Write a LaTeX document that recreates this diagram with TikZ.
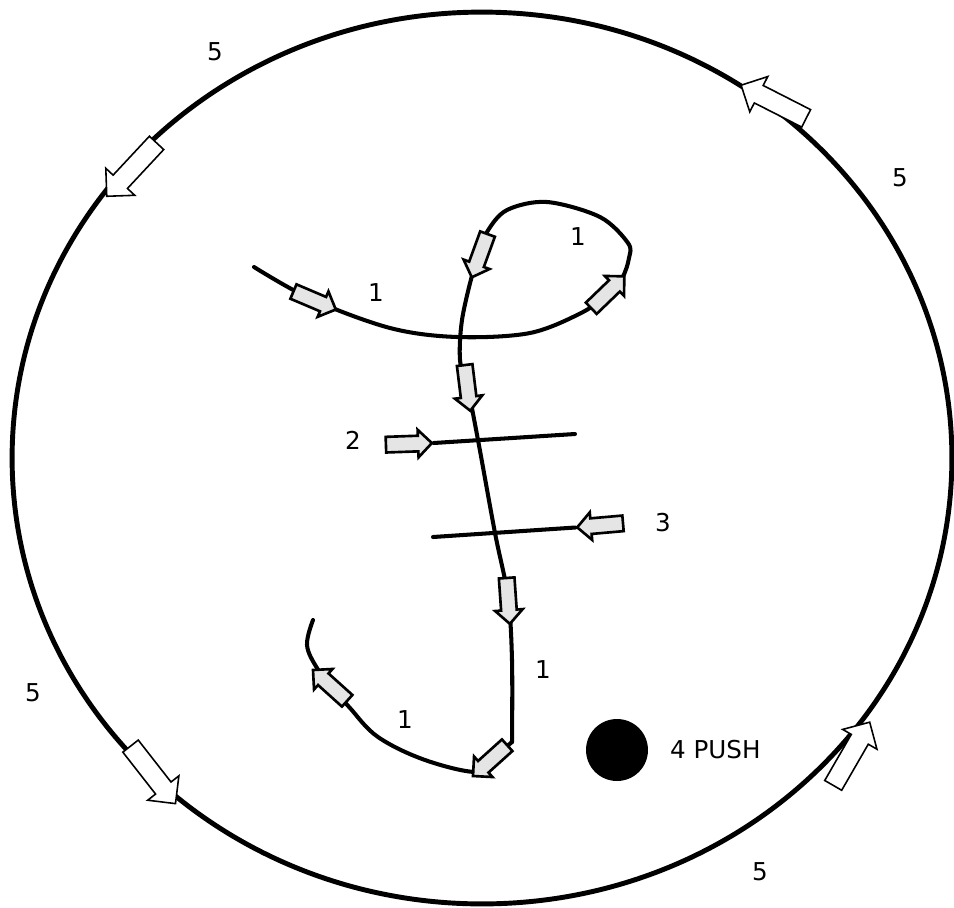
\documentclass[tikz,border=0pt]{standalone}
\usepackage{fontspec}
\setsansfont{DejaVu Sans}
\usetikzlibrary{shapes.arrows}

\begin{document}
\begin{tikzpicture}[
    x=0.02cm, y=-0.02cm,
    every node/.style={font=\sffamily\fontsize{14}{16}\selectfont},
    rimarr/.style={single arrow, draw, line width=0.9pt, fill=white, inner xsep=0pt, inner ysep=0.18cm, minimum height=1.46cm, single arrow head extend=0.2cm},
    dart/.style={single arrow, draw, line width=1.5pt, fill=gray!20, inner xsep=0pt, inner ysep=0.13cm, minimum height=0.92cm, single arrow head extend=0.12cm},
    stroke/.style={line width=2.3pt, line join=round, line cap=round},
]
\useasboundingbox (0,0) rectangle (954,907);

% ── Rim ──────────────────────────────────────────────────────────────────────
\draw[line width=2.8pt] (482,458) ellipse [x radius=9.4cm, y radius=8.92cm];
\node[rimarr, rotate=227] (rimnw) at (135,166) {};
\node[rimarr, rotate=153] (rimne) at (778,104) {};
\node[rimarr, rotate=-52] (rimsw) at (150,771) {};
\node[rimarr, rotate=60]  (rimse) at (849,758) {};
\node (fivenw) at (215,52)  {5};
\node (fivene) at (900,178) {5};
\node (fivesw) at (33,693)  {5};
\node (fivese) at (760,872) {5};

% ── Main stroke ──────────────────────────────────────────────────────────────
\draw[stroke] plot[smooth, tension=0.55] coordinates {
    (254,267) (311,299) (390,328) (457,337) (530,333) (583,312) (605,295)
    (622,278) (629,258) (628,243) (600,217) (547,202) (507,210) (487,232)
    (481,252) (473,272) (462,320) (460,360) (467,384) (478,440) (495,533)
    (508,597) (512,660) (512,742)};
\draw[stroke] plot[smooth, tension=0.6] coordinates {
    (512,742) (493,758) (477,772) (425,760) (378,737) (350,708) (333,688)
    (317,668) (307,645) (313,620)};

% ── Cross bars ───────────────────────────────────────────────────────────────
\node[dart, rotate=2]   (dartbar2) at (405,444) {};
\node[dart, rotate=185] (dartbar3) at (604,525) {};
\coordinate (bar2end)   at (575,434);
\coordinate (bar3start) at (433,537);
\draw[stroke] (dartbar2.tip) -- (bar2end);
\draw[stroke] (bar3start) -- (dartbar3.tip);
\node (two)   at (353,440) {2};
\node (three) at (663,523) {3};

% ── Direction darts ──────────────────────────────────────────────────────────
\node[dart, rotate=-23] (dartin)   at (311,299) {};
\node[dart, rotate=44]  (dartup)   at (605,295) {};
\node[dart, rotate=250] (dartloop) at (481,252) {};
\node[dart, rotate=277] (dartmid)  at (467,384) {};
\node[dart, rotate=274] (dartlow)  at (508,597) {};
\node[dart, rotate=222] (dartturn) at (493,758) {};
\node[dart, rotate=138] (dartout)  at (333,688) {};
\node (onea) at (376,293) {1};
\node (oneb) at (578,237) {1};
\node (onec) at (543,670) {1};
\node (oned) at (405,720) {1};

% ── Push point ───────────────────────────────────────────────────────────────
\node[circle, fill, minimum size=1.24cm, inner sep=0pt] (btn) at (617,750) {};
\node[anchor=west] (push) at (664,750) {4 PUSH};

\end{tikzpicture}
\end{document}
